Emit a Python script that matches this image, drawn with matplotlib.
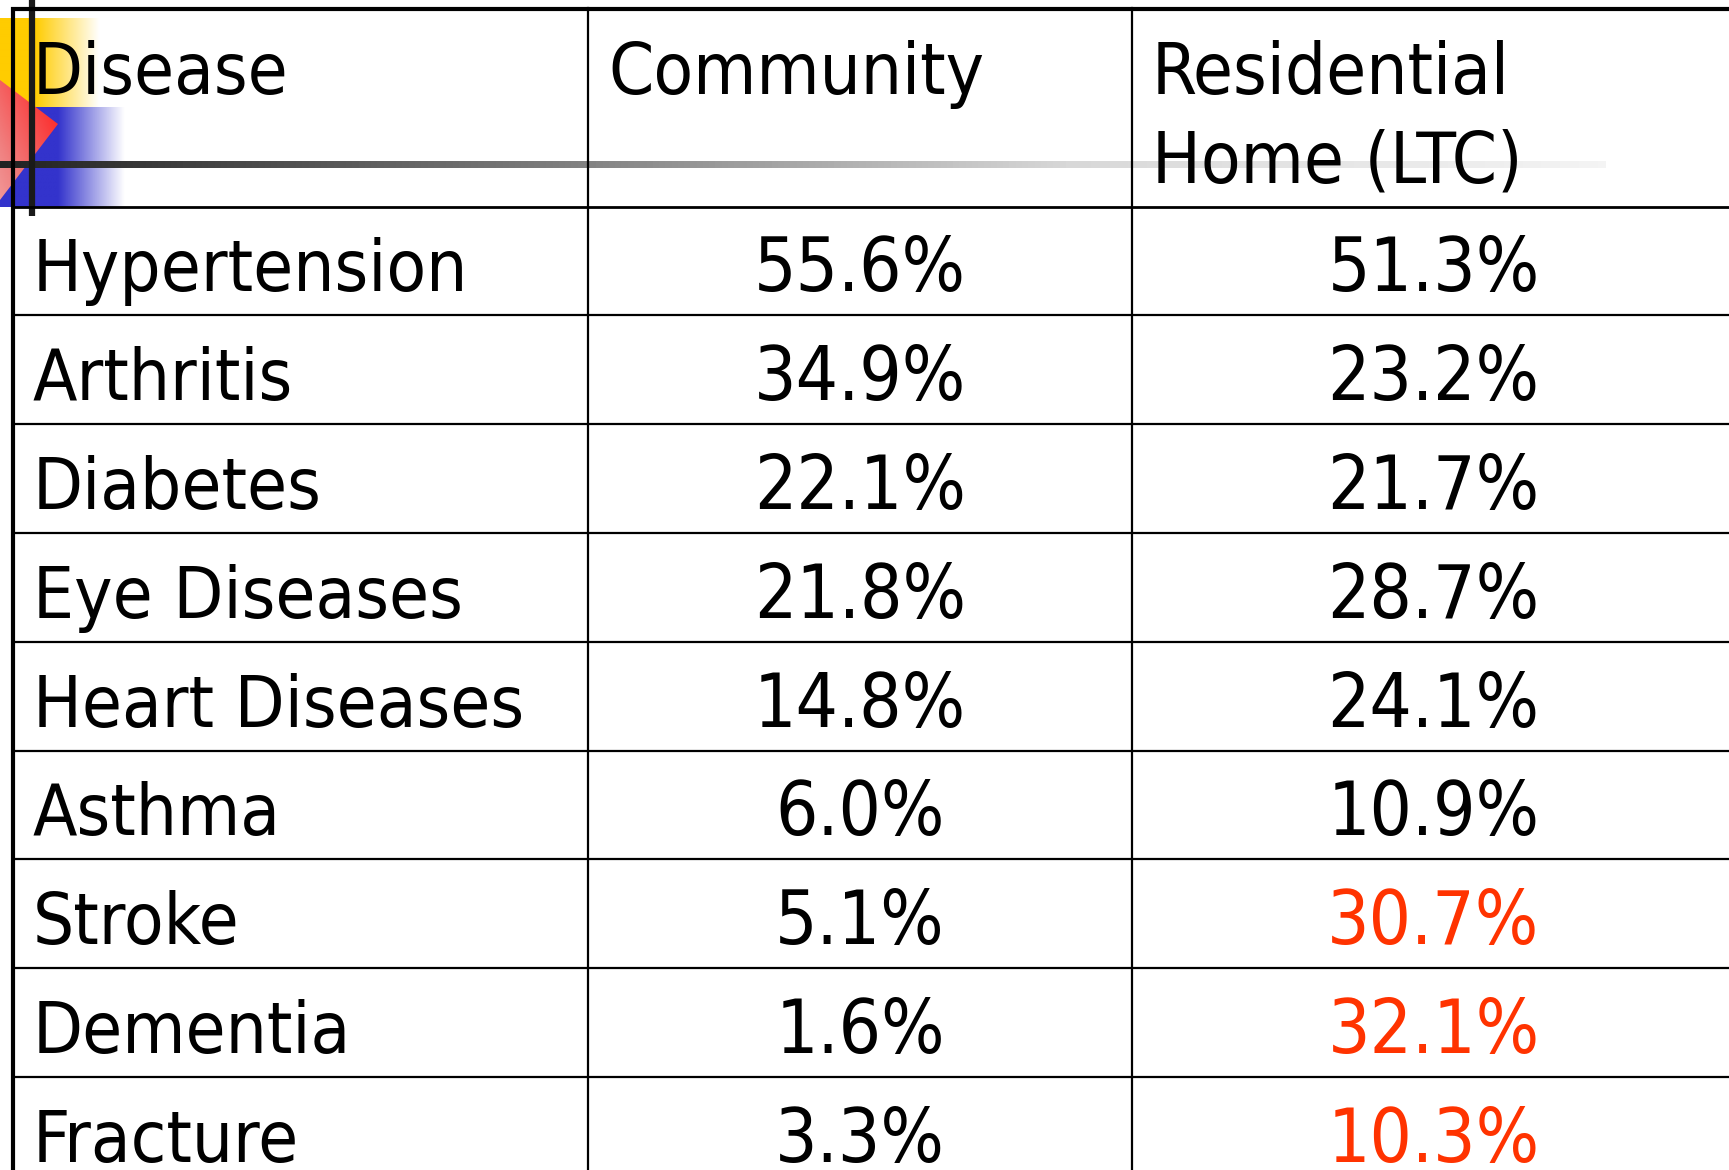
import matplotlib.pyplot as plt
import numpy as np
from matplotlib.colors import LinearSegmentedColormap
from matplotlib.patches import Polygon

HEADERS = ["Disease", "Community", "Residential\nHome (LTC)"]
DISEASES = ["Hypertension", "Arthritis", "Diabetes", "Eye Diseases", "Heart Diseases",
            "Asthma", "Stroke", "Dementia", "Fracture"]
COMMUNITY = [55.6, 34.9, 22.1, 21.8, 14.8, 6.0, 5.1, 1.6, 3.3]
RESIDENTIAL = [51.3, 23.2, 21.7, 28.7, 24.1, 10.9, 30.7, 32.1, 10.3]
HIGHLIGHT = ["Stroke", "Dementia", "Fracture"]

W, H = 1729, 1170
INK = "#000000"
RED = "#ff3300"
FONT = dict(family="DejaVu Sans", stretch="condensed", fontsize=52)
NUM_FONT = dict(family="DejaVu Sans", stretch="condensed", fontsize=53.5)

fig = plt.figure(figsize=(W / 100, H / 100), dpi=100)
ax = fig.add_axes([0, 0, 1, 1])
ax.set_xlim(0, W)
ax.set_ylim(H, 0)
ax.axis("off")

# --- slide decoration (top-left corner) ---
def hgrad(x0, x1, y0, y1, color, solid_to, z):
    cmap = LinearSegmentedColormap.from_list("g", [color, color, "#ffffff"])
    xs = np.linspace(x0, x1, 300)
    t = np.clip((xs - solid_to) / (x1 - solid_to), 0, 1)
    vals = np.where(xs < solid_to, 0.0, 0.5 + 0.5 * t)
    ax.imshow(vals[None, :], extent=(x0, x1, y1, y0), cmap=cmap, vmin=0, vmax=1,
              aspect="auto", zorder=z, interpolation="bilinear")

hgrad(0, 100, 18, 107, "#ffcc00", 35, 1)
hgrad(0, 125, 107, 207, "#3333cc", 58, 1)

diamond = Polygon([(-60, 124), (0, 80), (58, 124), (0, 200)], closed=True,
                  facecolor="none", edgecolor="none", zorder=2)
ax.add_patch(diamond)
dcmap = LinearSegmentedColormap.from_list("d", ["#f6d0d0", "#f08080", "#ff1a1a"])
gx, gy = np.meshgrid(np.linspace(0, 1, 100), np.linspace(0, 1, 100))
im = ax.imshow(gx * 0.7 + (1 - gy) * 0.3, extent=(-60, 58, 200, 80), cmap=dcmap,
               aspect="auto", zorder=2, interpolation="bilinear")
im.set_clip_path(diamond)

# fading horizontal rule through the header
bar = np.linspace(0, 1, 400)
gcmap = LinearSegmentedColormap.from_list("b", ["#222222", "#7a7a7a", "#d8d8d8", "#f4f4f4"])
ax.imshow(bar[None, :], extent=(0, 1606, 168, 161), cmap=gcmap, aspect="auto",
          zorder=3, interpolation="bilinear")
ax.plot([32, 32], [0, 216], color="#1a1a1a", lw=4.5, solid_capstyle="butt", zorder=3)

# --- table grid ---
col_x = [13, 588, 1132, 1735]
row_h = 108.8
header_bottom = 206.5
row_tops = [header_bottom + i * row_h for i in range(len(DISEASES) + 1)]

ax.plot([11, W], [8.5, 8.5], color=INK, lw=3, solid_capstyle="butt", zorder=5)
ax.plot([13, 13], [7, H], color=INK, lw=3, solid_capstyle="butt", zorder=5)
ax.plot([13, W], [header_bottom, header_bottom], color=INK, lw=2, zorder=5)
for y in row_tops[1:]:
    ax.plot([13, W], [y, y], color=INK, lw=1.6, zorder=5)
for x in col_x[1:3]:
    ax.plot([x, x], [8, H], color=INK, lw=1.6, zorder=5)

# --- header text ---
ax.text(33, 94, HEADERS[0], ha="left", va="baseline", color=INK, zorder=6, **FONT)
ax.text(608, 94, HEADERS[1], ha="left", va="baseline", color=INK, zorder=6, **FONT)
for k, line in enumerate(HEADERS[2].split("\n")):
    ax.text(1152, 94 + 88 * k, line, ha="left", va="baseline", color=INK, zorder=6, **FONT)

# --- body ---
c1 = (col_x[1] + col_x[2]) / 2
c2 = (col_x[2] + col_x[3]) / 2
for i, name in enumerate(DISEASES):
    base = row_tops[i] + 85
    ax.text(33, base, name, ha="left", va="baseline", color=INK, zorder=6, **FONT)
    ax.text(c1, base, f"{COMMUNITY[i]:.1f}%", ha="center", va="baseline", color=INK,
            zorder=6, **NUM_FONT)
    ax.text(c2, base, f"{RESIDENTIAL[i]:.1f}%", ha="center", va="baseline",
            color=RED if name in HIGHLIGHT else INK, zorder=6, **NUM_FONT)

fig.savefig("out.png", dpi=100)
